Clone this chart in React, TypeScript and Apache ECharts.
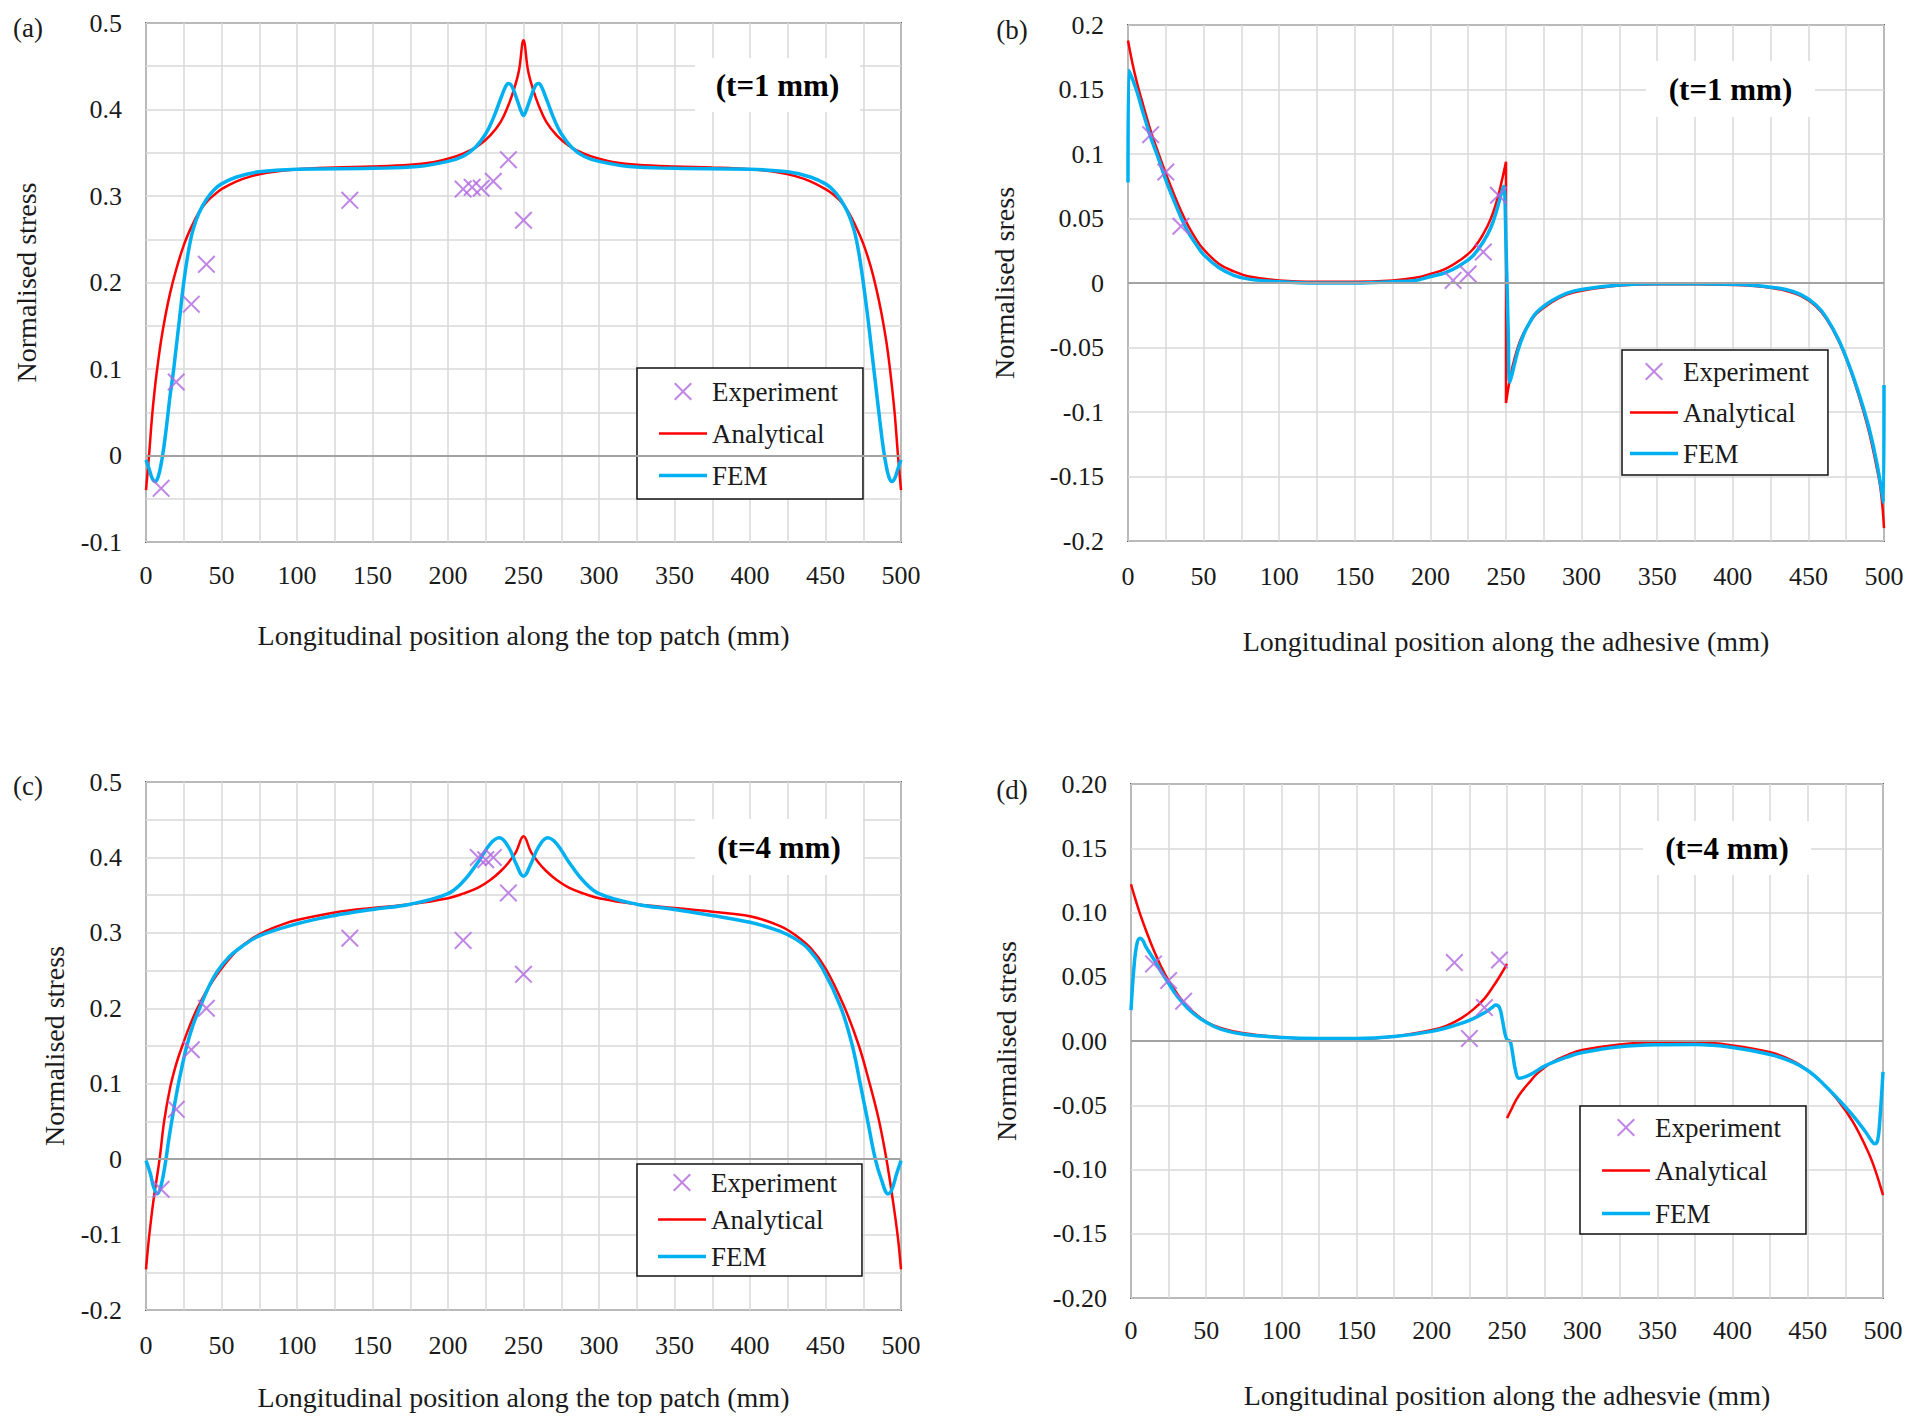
import React, { useEffect, useRef } from "react";
import * as echarts from "echarts";

type Pt = [number, number | string];

// ---- (a) top patch, t = 1 mm ----
const patch1Analytical: Pt[] = [
    [0, -0.04], [2, 0.0], [4, 0.045], [6, 0.08], [8, 0.108], [10, 0.133], [13, 0.163], [16, 0.188],
    [20, 0.215], [25, 0.243], [30, 0.264], [35, 0.281], [40, 0.293], [45, 0.301], [50, 0.308],
    [60, 0.317], [70, 0.323], [80, 0.327], [100, 0.331], [125, 0.333], [150, 0.334], [175, 0.336],
    [190, 0.339], [200, 0.343], [210, 0.349], [220, 0.358], [228, 0.37], [235, 0.386], [240, 0.405],
    [244, 0.425], [247, 0.445], [250, 0.48], [253, 0.445], [256, 0.425], [260, 0.405], [265, 0.386],
    [272, 0.37], [280, 0.358], [290, 0.349], [300, 0.343], [310, 0.339], [325, 0.336], [350, 0.334],
    [375, 0.333], [400, 0.331], [420, 0.327], [430, 0.323], [440, 0.317], [450, 0.308], [455, 0.302],
    [460, 0.294], [465, 0.282], [470, 0.265], [475, 0.245], [480, 0.218], [484, 0.19], [487, 0.165],
    [490, 0.135], [492, 0.11], [494, 0.08], [496, 0.045], [498, 0.0], [500, -0.04],
];
const patch1Fem: Pt[] = [
    [0, -0.005], [2, -0.015], [4, -0.026], [6, -0.03], [8, -0.025], [10, -0.01], [12, 0.012], [14, 0.04],
    [16, 0.07], [18, 0.095], [20, 0.125], [22, 0.155], [25, 0.2], [28, 0.235], [31, 0.26], [35, 0.28],
    [40, 0.296], [45, 0.307], [50, 0.314], [60, 0.322], [75, 0.328], [100, 0.331], [150, 0.332],
    [180, 0.334], [200, 0.34], [210, 0.346], [218, 0.356], [225, 0.372], [230, 0.39], [235, 0.413],
    [238, 0.426], [240, 0.43], [242, 0.428], [245, 0.415], [248, 0.4], [250, 0.393], [252, 0.4],
    [255, 0.415], [258, 0.428], [260, 0.43], [262, 0.426], [265, 0.413], [270, 0.39], [275, 0.372],
    [282, 0.356], [290, 0.346], [300, 0.34], [320, 0.334], [350, 0.332], [400, 0.331], [425, 0.328],
    [440, 0.322], [450, 0.314], [455, 0.307], [460, 0.296], [465, 0.28], [469, 0.26], [472, 0.235],
    [475, 0.2], [478, 0.16], [480, 0.13], [482, 0.1], [484, 0.07], [486, 0.04], [488, 0.012],
    [490, -0.01], [492, -0.025], [494, -0.03], [496, -0.026], [498, -0.015], [500, -0.005],
];
const patch1Experiment: Pt[] = [
    [10, -0.038], [20, 0.085], [30, 0.175], [40, 0.221], [135, 0.295], [210, 0.308], [216, 0.31],
    [222, 0.309], [230, 0.317], [240, 0.342], [250, 0.272],
];

// ---- (b) adhesive, t = 1 mm ----
const adhesive1Analytical: Pt[] = [
    [0, 0.188], [3, 0.17], [6, 0.155], [10, 0.138], [15, 0.118], [20, 0.101], [25, 0.085], [30, 0.07],
    [35, 0.056], [40, 0.044], [45, 0.034], [50, 0.026], [60, 0.015], [70, 0.009], [80, 0.005],
    [100, 0.002], [125, 0.001], [150, 0.001], [175, 0.002], [190, 0.004], [200, 0.007], [210, 0.011],
    [220, 0.018], [228, 0.026], [235, 0.038], [240, 0.05], [244, 0.064], [247, 0.078], [250, 0.094],
    [250, -0.093], [253, -0.072], [256, -0.057], [260, -0.043], [265, -0.032], [270, -0.024],
    [280, -0.015], [290, -0.009], [300, -0.006], [325, -0.002], [350, -0.001], [375, -0.001],
    [400, -0.0015], [420, -0.003], [435, -0.006], [445, -0.01], [455, -0.018], [462, -0.028],
    [470, -0.045], [477, -0.065], [484, -0.09], [490, -0.115], [495, -0.142], [498, -0.162], [500, -0.19],
];
const adhesive1Fem: Pt[] = [
    [0, 0.078], [0.5, 0.165], [3, 0.158], [6, 0.148], [10, 0.132], [15, 0.113], [20, 0.097], [25, 0.08],
    [30, 0.065], [35, 0.051], [40, 0.039], [45, 0.03], [50, 0.022], [60, 0.012], [70, 0.006], [80, 0.003],
    [100, 0.001], [125, 0.0], [150, 0.0], [175, 0.001], [190, 0.002], [200, 0.005], [210, 0.008],
    [220, 0.014], [228, 0.021], [235, 0.032], [240, 0.043], [244, 0.057], [247, 0.07], [248.5, 0.075],
    [250, 0.03], [251.5, -0.04], [252.5, -0.077], [255, -0.066], [258, -0.052], [262, -0.039],
    [266, -0.03], [270, -0.023], [280, -0.014], [290, -0.008], [300, -0.005], [325, -0.0015],
    [350, -0.0005], [375, -0.0005], [400, -0.001], [420, -0.0025], [435, -0.005], [445, -0.009],
    [455, -0.017], [462, -0.027], [470, -0.044], [477, -0.064], [484, -0.088], [490, -0.112],
    [495, -0.138], [499, -0.165], [499.7, -0.17], [500, -0.079],
];
const adhesive1Experiment: Pt[] = [
    [15, 0.115], [25, 0.086], [35, 0.044], [215, 0.002], [225, 0.007], [235, 0.024], [245, 0.068],
];

// ---- (c) top patch, t = 4 mm ----
const patch4Analytical: Pt[] = [
    [0, -0.146], [2, -0.104], [5, -0.054], [9, 0.0], [12, 0.05], [16, 0.095], [20, 0.126], [24, 0.15],
    [29, 0.177], [34, 0.2], [41, 0.226], [49, 0.25], [60, 0.276], [70, 0.292], [80, 0.303], [90, 0.311],
    [100, 0.317], [125, 0.327], [150, 0.333], [175, 0.338], [200, 0.346], [210, 0.352], [220, 0.36],
    [228, 0.37], [235, 0.382], [240, 0.393], [245, 0.407], [250, 0.428], [255, 0.407], [260, 0.393],
    [265, 0.382], [272, 0.37], [280, 0.36], [290, 0.352], [300, 0.346], [325, 0.338], [350, 0.333],
    [375, 0.328], [400, 0.322], [420, 0.309], [430, 0.297], [440, 0.28], [450, 0.253], [462, 0.204],
    [472, 0.151], [479, 0.102], [485, 0.055], [489, 0.015], [492, -0.02], [495, -0.06], [498, -0.105],
    [500, -0.146],
];
const patch4Fem: Pt[] = [
    [0, -0.002], [3, -0.02], [5, -0.037], [7.5, -0.046], [10, -0.035], [13, -0.003], [15, 0.025],
    [17, 0.05], [21, 0.095], [24, 0.124], [27, 0.15], [31, 0.177], [35.5, 0.2], [41, 0.226], [47, 0.248],
    [55, 0.268], [65, 0.284], [75, 0.296], [100, 0.312], [125, 0.323], [150, 0.331], [175, 0.338],
    [200, 0.352], [210, 0.368], [220, 0.394], [228, 0.418], [234, 0.426], [240, 0.414], [245, 0.392],
    [250, 0.375], [255, 0.392], [260, 0.414], [266, 0.426], [272, 0.418], [280, 0.394], [290, 0.368],
    [300, 0.352], [325, 0.338], [350, 0.331], [375, 0.323], [400, 0.314], [420, 0.302], [430, 0.292],
    [439, 0.278], [448, 0.253], [460, 0.202], [467.7, 0.151], [473, 0.1], [478, 0.05], [483, 0.0],
    [487, -0.027], [491.5, -0.046], [494, -0.04], [497, -0.02], [500, -0.002],
];
const patch4Experiment: Pt[] = [
    [10, -0.04], [20, 0.066], [30, 0.145], [40, 0.2], [135, 0.293], [210, 0.29], [220, 0.4],
    [225, 0.397], [230, 0.4], [240, 0.353], [250, 0.245],
];

// ---- (d) adhesive, t = 4 mm ----
const adhesive4Analytical: Pt[] = [
    [0, 0.122], [3, 0.11], [6, 0.099], [10, 0.086], [15, 0.071], [20, 0.058], [25, 0.047], [30, 0.038],
    [35, 0.03], [40, 0.024], [50, 0.015], [60, 0.01], [75, 0.006], [100, 0.003], [125, 0.0018],
    [150, 0.0018], [175, 0.0035], [200, 0.0085], [210, 0.012], [220, 0.018], [228, 0.025], [235, 0.033],
    [240, 0.041], [245, 0.05], [250, 0.06], [250, "-"], [250, -0.06], [253, -0.053], [256, -0.046],
    [260, -0.039], [265, -0.032], [270, -0.0254], [280, -0.0165], [290, -0.011], [300, -0.007],
    [325, -0.0027], [350, -0.001], [375, -0.001], [400, -0.0034], [425, -0.0088], [440, -0.0155],
    [450, -0.023], [460, -0.033], [470, -0.046], [480, -0.063], [490, -0.086], [495, -0.101], [500, -0.12],
];
const adhesive4Fem: Pt[] = [
    [0, 0.024], [2, 0.058], [4, 0.076], [6, 0.08], [8, 0.078], [10, 0.073], [15, 0.064], [20, 0.054],
    [25, 0.045], [30, 0.036], [40, 0.023], [50, 0.0145], [60, 0.009], [75, 0.0052], [100, 0.0028],
    [125, 0.002], [150, 0.002], [175, 0.0035], [200, 0.0075], [215, 0.012], [225, 0.016], [235, 0.022],
    [240, 0.026], [242.5, 0.028], [245, 0.026], [247, 0.016], [249, 0.004], [250.5, 0.0005], [252, 0.0],
    [253.5, -0.008], [255.5, -0.022], [258, -0.029], [262, -0.028], [268, -0.0245], [275, -0.0195],
    [290, -0.0125], [300, -0.009], [325, -0.0045], [350, -0.003], [375, -0.0028], [400, -0.005],
    [425, -0.0105], [440, -0.0165], [450, -0.023], [460, -0.033], [470, -0.045], [480, -0.058],
    [488, -0.07], [492, -0.077], [494.5, -0.08], [496.5, -0.077], [498, -0.06], [500, -0.024],
];
const adhesive4Experiment: Pt[] = [
    [15, 0.06], [25, 0.047], [35, 0.031], [215, 0.061], [225, 0.002], [235, 0.026], [245, 0.063],
];

const xTicks = { min: 0, max: 500, interval: 50 };

const FONT = "'Liberation Serif', 'Times New Roman', serif";
const INK = "#1a1a1a";
const GRID_LINE = "#d9d9d9";
const RED = "#ff0000";
const BLUE = "#00b0f0";
const PURPLE = "#b068e0";
const X_MARK =
    "path://M0,0.8L0.8,0L5,4.2L9.2,0L10,0.8L5.8,5L10,9.2L9.2,10L5,5.8L0.8,10L0,9.2L4.2,5Z";
// legend keys for the two curves: flat bars, kept to aspect inside the 48x18 slot
const RED_KEY = "path://M0,0H48V2.6H0Z";
const BLUE_KEY = "path://M0,0H48V3.4H0Z";

type Panel = {
    letter: string;
    tag: string;
    xName: string;
    yName: string;
    grid: { left: number; top: number; width: number; height: number };
    y: { min: number; max: number; interval: number; minor: boolean; digits?: number };
    xNameGap: number;
    yNameGap: number;
    xLabelMargin: number;
    letterPos: [number, number];
    tagBox: [number, number, number, number];
    legend: { left: number; top: number; padding: number[]; itemGap: number };
    analytical: Pt[];
    fem: Pt[];
    experiment: Pt[];
};

const panels: Panel[] = [
    {
        letter: "(a)", tag: "(t=1 mm)",
        xName: "Longitudinal position along the top patch (mm)", yName: "Normalised stress",
        grid: { left: 146, top: 23, width: 755, height: 519 },
        y: { min: -0.1, max: 0.5, interval: 0.1, minor: true },
        xNameGap: 79, yNameGap: 106, xLabelMargin: 20,
        letterPos: [28, 28], tagBox: [695, 58, 165, 54],
        legend: { left: 637, top: 368, padding: [10, 25, 10, 22], itemGap: 15 },
        analytical: patch1Analytical, fem: patch1Fem, experiment: patch1Experiment,
    },
    {
        letter: "(b)", tag: "(t=1 mm)",
        xName: "Longitudinal position along the adhesive (mm)", yName: "Normalised sress",
        grid: { left: 1128, top: 25, width: 756, height: 516 },
        y: { min: -0.2, max: 0.2, interval: 0.05, minor: false },
        xNameGap: 86, yNameGap: 110, xLabelMargin: 22,
        letterPos: [1012, 30], tagBox: [1646, 61, 169, 56],
        legend: { left: 1622, top: 350, padding: [8, 19, 8, 8], itemGap: 14 },
        analytical: adhesive1Analytical, fem: adhesive1Fem, experiment: adhesive1Experiment,
    },
    {
        letter: "(c)", tag: "(t=4 mm)",
        xName: "Longitudinal position along the top patch (mm)", yName: "Normalised stress",
        grid: { left: 146, top: 782, width: 755, height: 528 },
        y: { min: -0.2, max: 0.5, interval: 0.1, minor: true },
        xNameGap: 73, yNameGap: 78, xLabelMargin: 22,
        letterPos: [28, 786], tagBox: [695, 819, 168, 56],
        legend: { left: 637, top: 1164, padding: [5, 25, 6, 21], itemGap: 10 },
        analytical: patch4Analytical, fem: patch4Fem, experiment: patch4Experiment,
    },
    {
        letter: "(d)", tag: "(t=4 mm)",
        xName: "Longitudinal position along the adhesvie (mm)", yName: "Normalised stress",
        grid: { left: 1131, top: 784, width: 752, height: 514 },
        y: { min: -0.2, max: 0.2, interval: 0.05, minor: false, digits: 2 },
        xNameGap: 83, yNameGap: 111, xLabelMargin: 19,
        letterPos: [1012, 790], tagBox: [1643, 821, 168, 54],
        legend: { left: 1580, top: 1106, padding: [8, 25, 7, 22], itemGap: 16 },
        analytical: adhesive4Analytical, fem: adhesive4Fem, experiment: adhesive4Experiment,
    },
];

const gridLine = { show: true, lineStyle: { color: GRID_LINE, width: 1.5 } };
const labelText = { fontFamily: FONT, fontSize: 26, color: INK };

function buildOption(): echarts.EChartsOption {
    const grid: any[] = [];
    const xAxis: any[] = [];
    const yAxis: any[] = [];
    const series: any[] = [];
    const legend: any[] = [];
    const graphic: any[] = [];

    panels.forEach((p, i) => {
        grid.push({ ...p.grid, show: true, borderColor: "#5f5f5f", borderWidth: 2, containLabel: false });
        xAxis.push({
            type: "value", gridIndex: i, ...xTicks,
            name: p.xName, nameLocation: "middle", nameGap: p.xNameGap,
            nameTextStyle: { fontFamily: FONT, fontSize: 28, color: INK },
            axisLine: { show: false }, axisTick: { show: false },
            axisLabel: { ...labelText, margin: p.xLabelMargin },
            splitLine: gridLine,
            minorTick: { show: false, splitNumber: 2 },
            minorSplitLine: gridLine,
        });
        yAxis.push({
            type: "value", gridIndex: i, min: p.y.min, max: p.y.max, interval: p.y.interval,
            name: p.yName, nameLocation: "middle", nameGap: p.yNameGap,
            nameTextStyle: { fontFamily: FONT, fontSize: 28, color: INK },
            axisLine: { show: false }, axisTick: { show: false },
            axisLabel: {
                ...labelText, margin: 24,
                formatter: (v: number) => (p.y.digits ? v.toFixed(p.y.digits) : String(+v.toFixed(3))),
            },
            splitLine: gridLine,
            minorTick: { show: false, splitNumber: 2 },
            minorSplitLine: { ...gridLine, show: p.y.minor },
        });
        series.push(
            {
                name: "Analytical", type: "line", xAxisIndex: i, yAxisIndex: i, data: p.analytical,
                symbol: "none", showSymbol: false, smooth: 0.4, z: 2,
                lineStyle: { color: RED, width: 2.5 }, itemStyle: { color: RED },
                markLine: {
                    silent: true, symbol: ["none", "none"], label: { show: false },
                    lineStyle: { color: "#a3a3a3", width: 2, type: "solid" },
                    data: [{ yAxis: 0 }],
                },
            },
            {
                name: "FEM", type: "line", xAxisIndex: i, yAxisIndex: i, data: p.fem,
                symbol: "none", showSymbol: false, smooth: 0.4, z: 3,
                lineStyle: { color: BLUE, width: 3.5 }, itemStyle: { color: BLUE },
            },
            {
                name: "Experiment", type: "scatter", xAxisIndex: i, yAxisIndex: i, data: p.experiment,
                symbol: X_MARK, symbolSize: 18, z: 4, itemStyle: { color: PURPLE },
            }
        );
        legend.push({
            data: [
                { name: "Experiment", icon: X_MARK },
                { name: "Analytical", icon: RED_KEY },
                { name: "FEM", icon: BLUE_KEY },
            ],
            orient: "vertical",
            left: p.legend.left, top: p.legend.top, padding: p.legend.padding, itemGap: p.legend.itemGap,
            itemWidth: 48, itemHeight: 18, symbolKeepAspect: true, selectedMode: false,
            backgroundColor: "#ffffff", borderColor: "#111111", borderWidth: 1.5,
            textStyle: { fontFamily: FONT, fontSize: 27, color: INK },
        });
        const [bx, by, bw, bh] = p.tagBox;
        graphic.push(
            { type: "rect", z: 1, shape: { x: bx, y: by, width: bw, height: bh }, style: { fill: "#ffffff" } },
            {
                type: "text", z: 5, x: bx + bw / 2, y: by + bh / 2,
                style: {
                    text: p.tag, align: "center", verticalAlign: "middle",
                    font: `bold 31px ${FONT}`, fill: "#000000",
                },
            },
            {
                type: "text", z: 5, x: p.letterPos[0], y: p.letterPos[1],
                style: {
                    text: p.letter, align: "center", verticalAlign: "middle",
                    font: `27px ${FONT}`, fill: INK,
                },
            }
        );
    });

    return {
        animation: false,
        backgroundColor: "#ffffff",
        grid, xAxis, yAxis, series, legend, graphic,
    };
}

const App: React.FC = () => {
    const ref = useRef<HTMLDivElement | null>(null);

    useEffect(() => {
        if (!ref.current) return;
        const chart = echarts.init(ref.current, undefined, { renderer: "svg" });
        chart.setOption(buildOption());
        return () => chart.dispose();
    }, []);

    return (
        <div
            ref={ref}
            style={{ position: "absolute", left: 0, top: 0, width: 1921, height: 1423, background: "#fff" }}
        />
    );
};

export default App;
